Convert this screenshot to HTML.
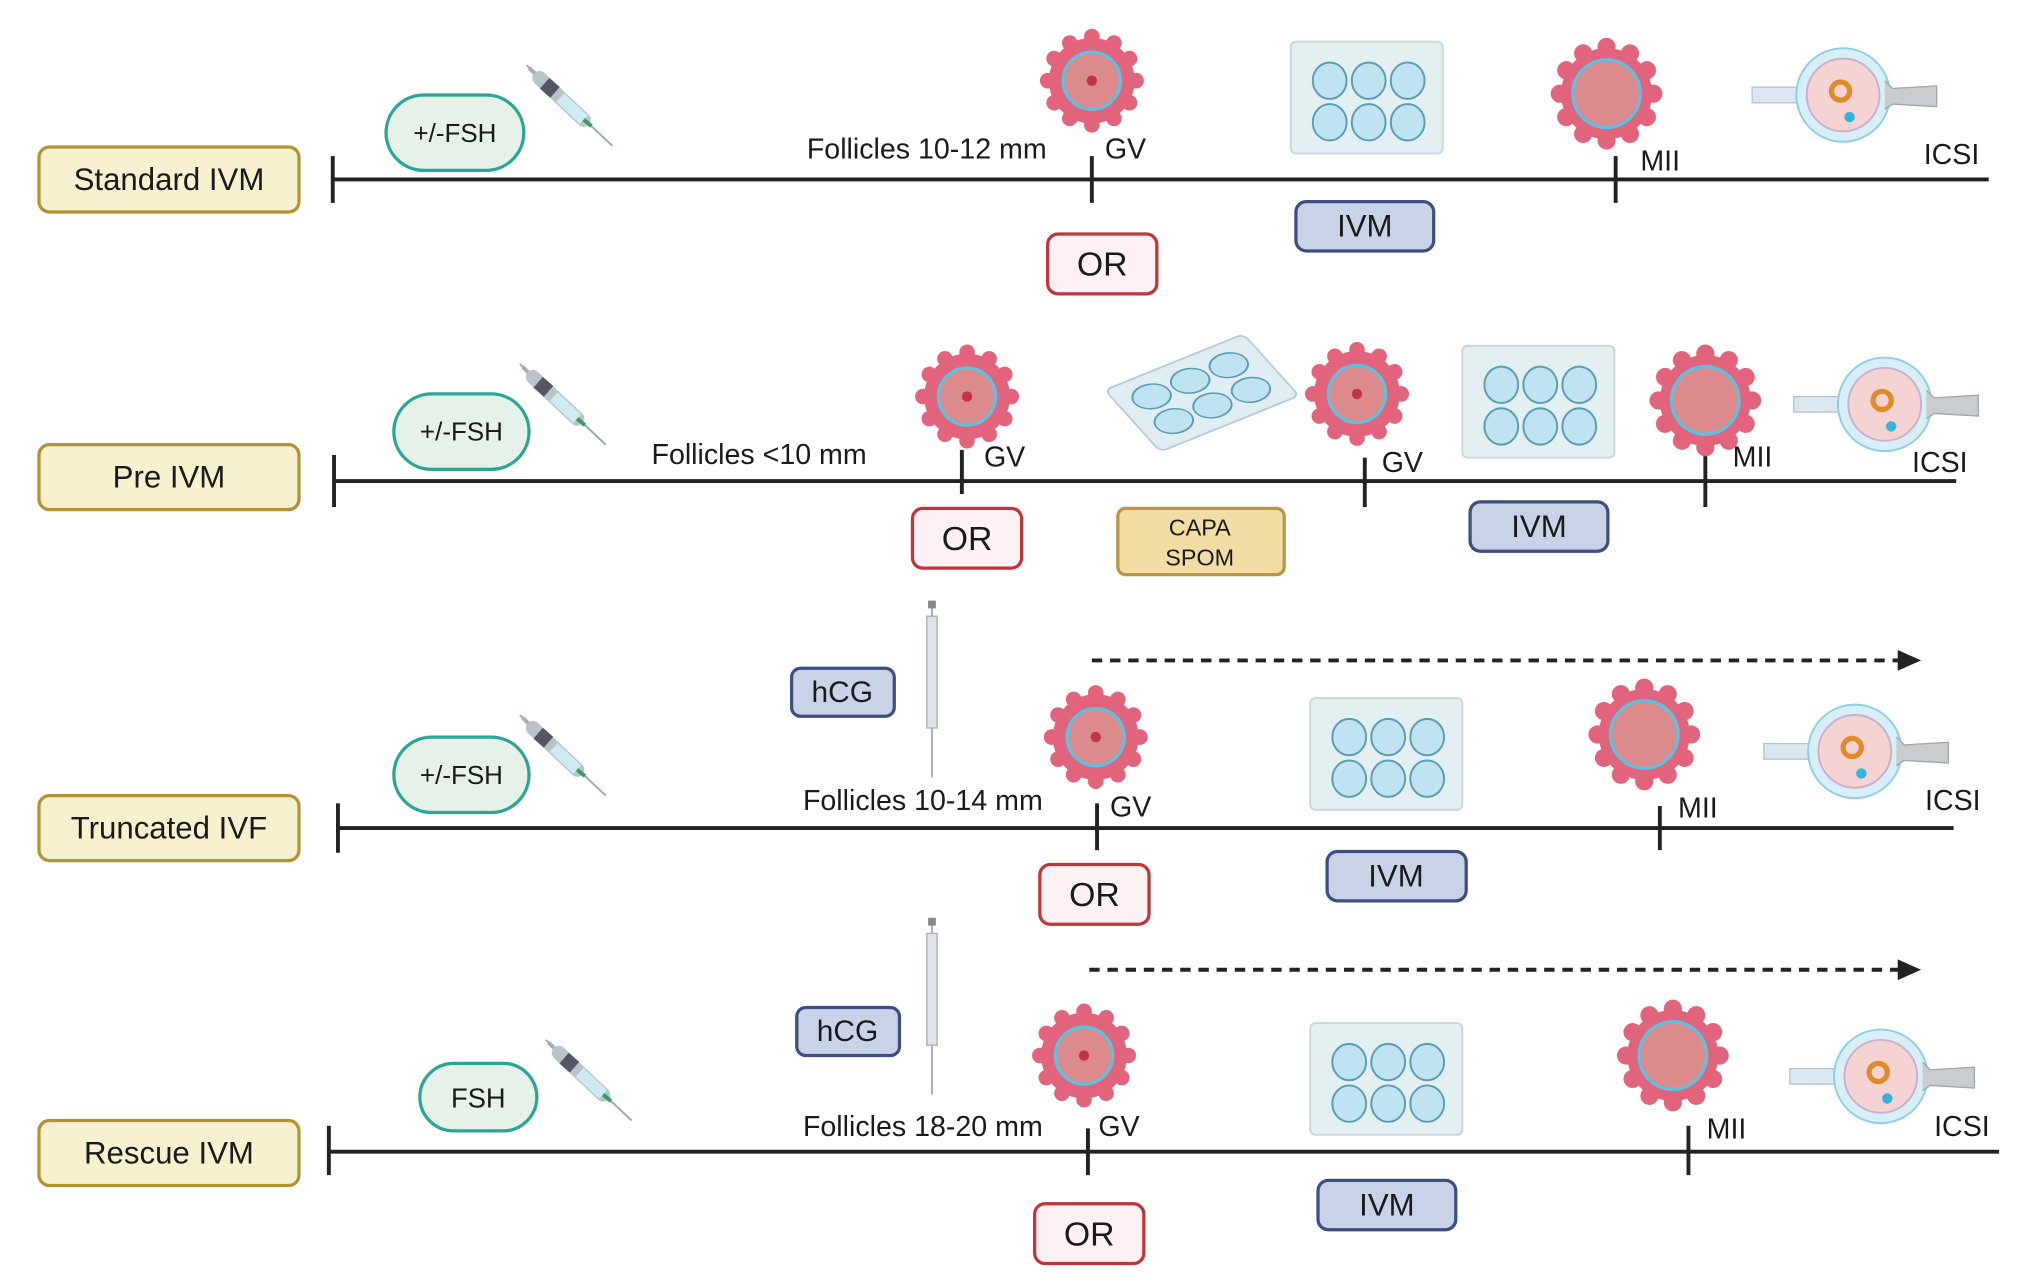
<!DOCTYPE html>
<html><head><meta charset="utf-8"><style>
html,body{margin:0;padding:0;background:#fff;}
svg{display:block;}
text{font-family:"Liberation Sans",sans-serif;fill:#1a1a1a;}
</style></head><body>
<svg width="2029" height="1287" viewBox="0 0 1561 990" xmlns="http://www.w3.org/2000/svg">
<defs>
<g id="cellgv">
  <circle r="33" fill="#e2647c"/>
  <g fill="#e2647c">
    <circle cx="34" cy="0" r="6"/><circle cx="29" cy="17" r="6"/><circle cx="17" cy="29" r="6"/><circle cx="0" cy="34" r="6"/>
    <circle cx="-17" cy="29" r="6"/><circle cx="-29" cy="17" r="6"/><circle cx="-34" cy="0" r="6"/><circle cx="-29" cy="-17" r="6"/>
    <circle cx="-17" cy="-29" r="6"/><circle cx="0" cy="-34" r="6"/><circle cx="17" cy="-29" r="6"/><circle cx="29" cy="-17" r="6"/>
  </g>
  <circle r="22" fill="#dc8a8c" stroke="#5cc2e2" stroke-width="2.5"/>
  <circle r="4" fill="#c2344c"/>
</g>
<g id="cellmii">
  <circle r="35" fill="#e2647c"/>
  <g fill="#e2647c">
    <circle cx="36" cy="0" r="7"/><circle cx="31" cy="18" r="7"/><circle cx="18" cy="31" r="7"/><circle cx="0" cy="36" r="7"/>
    <circle cx="-18" cy="31" r="7"/><circle cx="-31" cy="18" r="7"/><circle cx="-36" cy="0" r="7"/><circle cx="-31" cy="-18" r="7"/>
    <circle cx="-18" cy="-31" r="7"/><circle cx="0" cy="-36" r="7"/><circle cx="18" cy="-31" r="7"/><circle cx="31" cy="-18" r="7"/>
  </g>
  <circle r="26" fill="#dc8a8c" stroke="#5cc2e2" stroke-width="2.5"/>
</g>
<g id="plate">
  <rect x="0" y="0" width="117" height="86" rx="4" fill="#e4eff2" stroke="#c7d7dd" stroke-width="1.5"/>
  <g fill="#bfe3f1" stroke="#5a9db5" stroke-width="1.5">
    <ellipse cx="30" cy="30" rx="13" ry="14"/><ellipse cx="60" cy="30" rx="13" ry="14"/><ellipse cx="90" cy="30" rx="13" ry="14"/>
    <ellipse cx="30" cy="62" rx="13" ry="14"/><ellipse cx="60" cy="62" rx="13" ry="14"/><ellipse cx="90" cy="62" rx="13" ry="14"/>
  </g>
</g>
<g id="syringe">
  <line x1="0" y1="0" x2="66" y2="62" stroke="#9aa" stroke-width="1.5"/>
  <line x1="2" y1="2" x2="14" y2="14" stroke="#aab" stroke-width="3"/>
  <line x1="10" y1="10" x2="44" y2="42" stroke="#b8c4c8" stroke-width="11" stroke-linecap="round"/>
  <line x1="26" y1="25" x2="44" y2="42" stroke="#cfeaf2" stroke-width="9"/>
  <line x1="14" y1="14" x2="22" y2="21" stroke="#556" stroke-width="11"/>
  <line x1="44" y1="42" x2="50" y2="47" stroke="#3a9a6a" stroke-width="3"/>
</g>
<g id="vsyr">
  <line x1="0" y1="0" x2="0" y2="136" stroke="#999" stroke-width="1.2"/>
  <rect x="-4" y="12" width="8" height="86" fill="#dde3e6" stroke="#aab" stroke-width="1"/>
  <rect x="-3" y="0" width="6" height="6" fill="#888"/>
</g>
<g id="icsi">
  <rect x="0" y="27" width="60" height="12" fill="#dce6ee" stroke="#b0c4d4"/>
  <circle cx="70" cy="33" r="36" fill="#d9eff7" stroke="#8fcfe6" stroke-width="1.5"/>
  <circle cx="70" cy="33" r="28" fill="#f5d3d2" stroke="#c8b0d0" stroke-width="1.5"/>
  <circle cx="68" cy="30" r="7" fill="none" stroke="#e08a2a" stroke-width="4"/>
  <circle cx="75" cy="50" r="4" fill="#33b4dc"/>
  <path d="M102 22 L108 28 L142 26 L142 42 L108 40 L102 44" fill="#c9cdd0" stroke="#9aa"/>
</g>
<marker id="ah" markerWidth="10" markerHeight="10" refX="8" refY="5" orient="auto" markerUnits="userSpaceOnUse">
  <path d="M0 0 L18 5 L0 10Z" fill="#1a1a1a" transform="scale(0.9)"/>
</marker>
</defs>

<g font-size="22">
<!-- label boxes -->
<g stroke="#b39233" stroke-width="2.5" fill="#f7f1cf">
  <rect x="30" y="113" width="200" height="50" rx="8"/>
  <rect x="30" y="342" width="200" height="50" rx="8"/>
  <rect x="30" y="612" width="200" height="50" rx="8"/>
  <rect x="30" y="862" width="200" height="50" rx="8"/>
</g>
<text x="130" y="146" text-anchor="middle" font-size="24">Standard IVM</text>
<text x="130" y="375" text-anchor="middle" font-size="24">Pre IVM</text>
<text x="130" y="645" text-anchor="middle" font-size="24">Truncated IVF</text>
<text x="130" y="895" text-anchor="middle" font-size="24">Rescue IVM</text>

<!-- timelines -->
<g stroke="#222" stroke-width="3">
  <line x1="256" y1="138" x2="1530" y2="138"/>
  <line x1="256" y1="120" x2="256" y2="156"/><line x1="840" y1="120" x2="840" y2="156"/><line x1="1243" y1="120" x2="1243" y2="156"/>
  <line x1="257" y1="370" x2="1505" y2="370"/>
  <line x1="257" y1="350" x2="257" y2="390"/><line x1="740" y1="346" x2="740" y2="380"/><line x1="1050" y1="352" x2="1050" y2="390"/><line x1="1312" y1="346" x2="1312" y2="390"/>
  <line x1="260" y1="637" x2="1503" y2="637"/>
  <line x1="260" y1="618" x2="260" y2="656"/><line x1="844" y1="618" x2="844" y2="654"/><line x1="1277" y1="620" x2="1277" y2="654"/>
  <line x1="253" y1="886" x2="1538" y2="886"/>
  <line x1="253" y1="866" x2="253" y2="904"/><line x1="837" y1="868" x2="837" y2="904"/><line x1="1299" y1="866" x2="1299" y2="904"/>
</g>
<g stroke="#222" stroke-width="3" stroke-dasharray="8,6">
  <line x1="840" y1="508" x2="1462" y2="508"/>
  <line x1="838" y1="746" x2="1462" y2="746"/>
</g>
<path d="M1460 500 L1478 508 L1460 516Z" fill="#222"/>
<path d="M1460 738 L1478 746 L1460 754Z" fill="#222"/>

<!-- FSH pills -->
<g stroke="#2aa596" stroke-width="2.5" fill="#e6f1e8">
  <rect x="297" y="73" width="106" height="58" rx="29"/>
  <rect x="303" y="303" width="104" height="58" rx="29"/>
  <rect x="303" y="567" width="104" height="58" rx="29"/>
  <rect x="323" y="818" width="90" height="52" rx="26"/>
</g>
<text x="350" y="109" text-anchor="middle" font-size="20">+/-FSH</text>
<text x="355" y="339" text-anchor="middle" font-size="20">+/-FSH</text>
<text x="355" y="603" text-anchor="middle" font-size="20">+/-FSH</text>
<text x="368" y="852" text-anchor="middle" font-size="21">FSH</text>

<use href="#syringe" x="405" y="50"/>
<use href="#syringe" x="400" y="280"/>
<use href="#syringe" x="400" y="550"/>
<use href="#syringe" x="420" y="800"/>
<use href="#vsyr" x="717" y="462"/>
<use href="#vsyr" x="717" y="706"/>

<!-- hCG -->
<g stroke="#3d4f80" stroke-width="2.5" fill="#c9d3e8">
  <rect x="609" y="514" width="79" height="37" rx="7"/>
  <rect x="613" y="775" width="79" height="37" rx="7"/>
  <rect x="997" y="155" width="106" height="38" rx="8"/>
  <rect x="1131" y="386" width="106" height="38" rx="8"/>
  <rect x="1021" y="655" width="107" height="38" rx="8"/>
  <rect x="1014" y="908" width="106" height="38" rx="8"/>
</g>
<text x="648" y="540" text-anchor="middle" font-size="23">hCG</text>
<text x="652" y="801" text-anchor="middle" font-size="23">hCG</text>
<text x="1050" y="182" text-anchor="middle" font-size="24">IVM</text>
<text x="1184" y="413" text-anchor="middle" font-size="24">IVM</text>
<text x="1074" y="682" text-anchor="middle" font-size="24">IVM</text>
<text x="1067" y="935" text-anchor="middle" font-size="24">IVM</text>

<!-- OR -->
<g stroke="#c0353a" stroke-width="2.5" fill="#fdf1f4">
  <rect x="806" y="180" width="84" height="46" rx="8"/>
  <rect x="702" y="391" width="84" height="46" rx="8"/>
  <rect x="800" y="665" width="84" height="46" rx="8"/>
  <rect x="796" y="926" width="84" height="46" rx="8"/>
</g>
<text x="848" y="212" text-anchor="middle" font-size="26">OR</text>
<text x="744" y="423" text-anchor="middle" font-size="26">OR</text>
<text x="842" y="697" text-anchor="middle" font-size="26">OR</text>
<text x="838" y="958" text-anchor="middle" font-size="26">OR</text>

<rect x="860" y="391" width="128" height="51" rx="6" fill="#f2dea5" stroke="#bc9443" stroke-width="2.5"/>
<text x="923" y="412" text-anchor="middle" font-size="18">CAPA</text>
<text x="923" y="435" text-anchor="middle" font-size="18">SPOM</text>

<!-- texts -->
<text x="713" y="122" text-anchor="middle">Follicles 10-12 mm</text>
<text x="850" y="122">GV</text>
<text x="1262" y="131">MII</text>
<text x="1480" y="126">ICSI</text>
<text x="584" y="357" text-anchor="middle">Follicles &lt;10 mm</text>
<text x="757" y="359">GV</text>
<text x="1063" y="363">GV</text>
<text x="1333" y="359">MII</text>
<text x="1471" y="363">ICSI</text>
<text x="710" y="623" text-anchor="middle">Follicles 10-14 mm</text>
<text x="854" y="628">GV</text>
<text x="1291" y="629">MII</text>
<text x="1481" y="623">ICSI</text>
<text x="710" y="874" text-anchor="middle">Follicles 18-20 mm</text>
<text x="845" y="874">GV</text>
<text x="1313" y="876">MII</text>
<text x="1488" y="874">ICSI</text>

<!-- cells -->
<use href="#cellgv" x="840" y="62"/>
<use href="#cellmii" x="1236" y="72"/>
<use href="#cellgv" x="744" y="305"/>
<use href="#cellgv" x="1044" y="303"/>
<use href="#cellmii" x="1312" y="308"/>
<use href="#cellgv" x="843" y="567"/>
<use href="#cellmii" x="1265" y="565"/>
<use href="#cellgv" x="834" y="812"/>
<use href="#cellmii" x="1287" y="812"/>

<!-- plates -->
<use href="#plate" x="993" y="32"/>
<use href="#plate" x="1125" y="266"/>
<use href="#plate" x="1008" y="537"/>
<use href="#plate" x="1008" y="787"/>
<g transform="translate(850,300) rotate(-22) skewX(20)">
  <rect x="0" y="0" width="115" height="60" rx="5" fill="#e0edf2" stroke="#b9ccd4" stroke-width="1.5"/>
  <g fill="#bfe3f1" stroke="#5a9db5" stroke-width="1.3">
    <ellipse cx="25" cy="18" rx="14" ry="10"/><ellipse cx="57" cy="18" rx="14" ry="10"/><ellipse cx="89" cy="18" rx="14" ry="10"/>
    <ellipse cx="25" cy="42" rx="14" ry="10"/><ellipse cx="57" cy="42" rx="14" ry="10"/><ellipse cx="89" cy="42" rx="14" ry="10"/>
  </g>
</g>

<!-- ICSI -->
<use href="#icsi" x="1348" y="40"/>
<use href="#icsi" x="1380" y="278"/>
<use href="#icsi" x="1357" y="545"/>
<use href="#icsi" x="1377" y="795"/>
</g>
</svg>
</body></html>
